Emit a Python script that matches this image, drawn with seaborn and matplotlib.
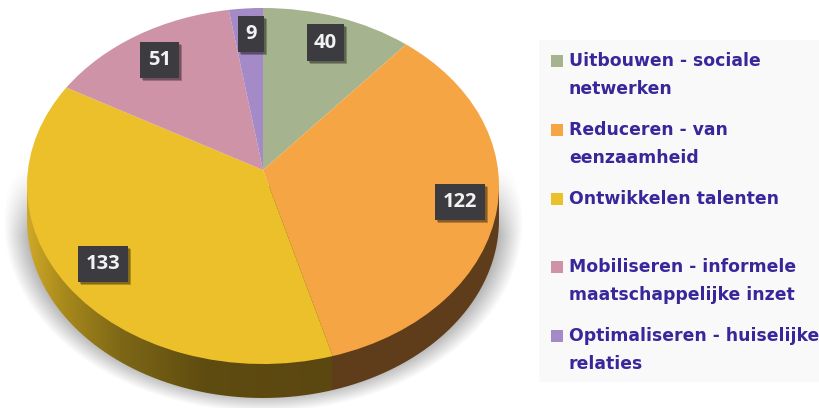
import matplotlib
matplotlib.use("Agg")
import matplotlib.pyplot as plt
import matplotlib.patheffects as pe
from matplotlib.patches import Rectangle
from matplotlib.path import Path
from matplotlib.colors import to_rgb
import numpy as np
import seaborn as sns

categories = ["Uitbouwen - sociale\nnetwerken",
              "Reduceren - van\neenzaamheid",
              "Ontwikkelen talenten",
              "Mobiliseren - informele\nmaatschappelijke inzet",
              "Optimaliseren - huiselijke\nrelaties"]
values = [40, 122, 133, 51, 9]
colors = ["#a5b48f", "#f6a544", "#ebc02a", "#cf93a8", "#a48ac6"]

W, H = 819, 408
CX, CY, RX, RY, DEPTH = 263, 186, 236, 178, 34
APEX_Y = 170  # slices meet above the ellipse centre (tilted view)
K = (CY - APEX_Y) / RY


def tilt(x, y):
    # perspective: keeps the outline an ellipse, moves the centre up, squeezes the far side
    return np.sqrt(1 - K ** 2) * x / (1 + K * y), (y + K) / (1 + K * y)


sns.set_theme(style="white")
plt.rcParams["font.family"] = ["DejaVu Sans"]
palette = sns.color_palette(colors)

fig = plt.figure(figsize=(W / 100, H / 100), dpi=100, facecolor="white")

# soft shadow under the pie
back = fig.add_axes([0, 0, 1, 1], zorder=0)
back.axis("off")
yy, xx = np.mgrid[0:H, 0:W]
dist = np.sqrt(((xx - CX) / 252) ** 2 + ((yy - 222) / 184) ** 2)
edge = np.clip((1.03 - dist) / 0.10, 0, 1)
fade = np.clip((yy - 165) / 70, 0, 1)
shadow = np.ones((H, W, 4)) * 0.6
shadow[..., 3] = 0.75 * edge * fade
back.imshow(shadow, aspect="auto", extent=(0, W, H, 0))
back.set_xlim(0, W)
back.set_ylim(H, 0)

# pie axes: one data unit is RX wide and RY high, so the circle becomes an ellipse
ax = fig.add_axes([0, 0, 1, 1], zorder=1)
ax.patch.set_alpha(0)

# side wall, split where the orange and yellow slices meet
ang = np.cumsum(values)[1] / sum(values) * 2 * np.pi
split = tilt(np.sin(ang), np.cos(ang))[0]
xs = np.linspace(-1, 1, 600)
left = np.array([to_rgb(c) for c in ["#cfa827", "#a98a1c", "#7d6717", "#5f4c10", "#5b4710"]])
stops = [-1, -0.85, -0.6, -0.25, split]
wall = np.zeros((1, xs.size, 3))
for i in range(3):
    wall[0, :, i] = np.interp(xs, stops, left[:, i])
wall[0, xs > split] = to_rgb("#5f3d1b")
im = ax.imshow(wall, aspect="auto", extent=(-1, 1, -1.3, 0), zorder=1)
t = np.linspace(np.pi, 2 * np.pi, 200)
d = DEPTH / RY
verts = np.column_stack([np.cos(t), np.sin(t) - d])
verts = np.vstack([[-1, 0], verts, [1, 0], [-1, 0]])
im.set_clip_path(Path(verts), transform=ax.transData)

wedges, _ = ax.pie(values, colors=palette, startangle=90, counterclock=False,
                   radius=1, wedgeprops={"linewidth": 0, "zorder": 2})
for w in wedges:
    p = w.get_path()
    v = np.column_stack(tilt(p.vertices[:, 0], p.vertices[:, 1]))
    w._path = Path(v, p.codes)
ax.set_aspect("auto")
ax.set_xlim(-CX / RX, (W - CX) / RX)
ax.set_ylim((CY - H) / RY, CY / RY)
ax.axis("off")

# value labels
label_boxes = [(307, 24, 37, 37), (435, 184, 50, 36), (78, 246, 50, 36),
               (140, 42, 39, 36), (238, 16, 26, 36)]
for val, (x, y, w, h) in zip(values, label_boxes):
    r = Rectangle((x / W, 1 - (y + h) / H), w / W, h / H, transform=fig.transFigure,
                  facecolor="#3b3b40", edgecolor="none", zorder=5)
    r.set_path_effects([pe.SimplePatchShadow(offset=(2.5, -2.5), shadow_rgbFace="#000000", alpha=0.25),
                        pe.SimplePatchShadow(offset=(1.5, -1.5), shadow_rgbFace="#000000", alpha=0.25),
                        pe.Normal()])
    fig.add_artist(r)
    fig.text((x + w / 2) / W, 1 - (y + h / 2) / H, str(val), color="#f2f2f2", fontsize=14.5,
             fontweight="bold", family="Open Sans", ha="center", va="center", zorder=6)

# legend panel
fig.add_artist(Rectangle((539 / W, 1 - 382 / H), 280 / W, 342 / H, transform=fig.transFigure,
                         facecolor="#f9f9f9", edgecolor="none", zorder=2))
for i, (name, col) in enumerate(zip(categories, palette)):
    y = 61 + i * 68.8
    fig.add_artist(Rectangle((551 / W, 1 - (y + 6) / H), 12 / W, 12 / H, transform=fig.transFigure,
                             facecolor=col, edgecolor="none", zorder=3))
    fig.text(569 / W, 1 - (y - 9) / H, name, color="#38279a", fontsize=12.4, fontweight="bold",
             va="top", ha="left", linespacing=1.7, zorder=3)

fig.savefig("out.png", dpi=100)
